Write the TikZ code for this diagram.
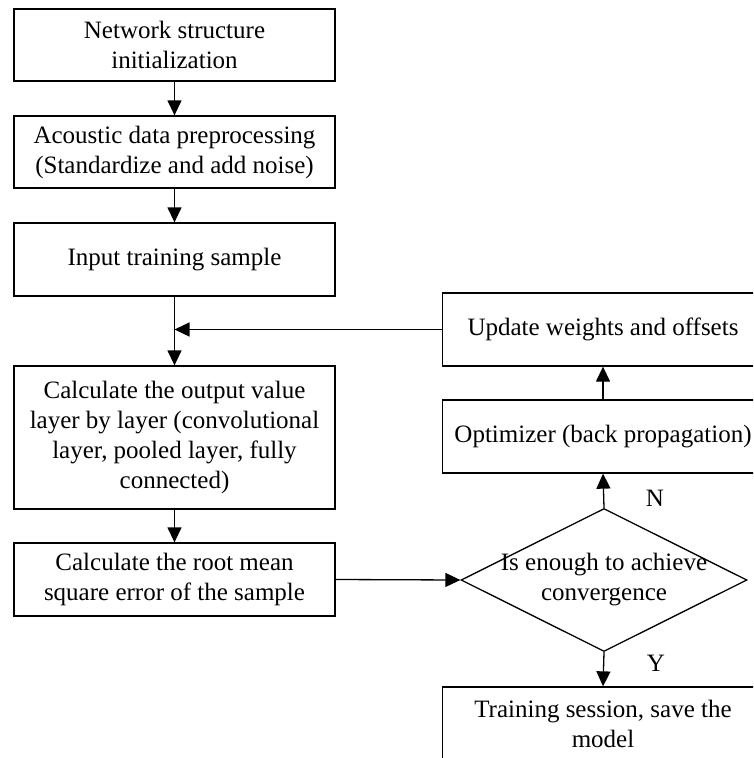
\documentclass[tikz,border=0pt]{standalone}
\usepackage{fontspec}
\setmainfont{Liberation Serif}
\usetikzlibrary{shapes.geometric,arrows.meta}
\tikzset{
  stepbox/.style={draw, line width=1.3pt, rectangle, minimum width=321pt, inner sep=0pt, align=center,
    font=\fontsize{25}{30}\selectfont},
  decision/.style={draw, line width=1.3pt, diamond, minimum width=286pt, minimum height=143pt, inner sep=0pt},
  flow/.style={line width=1.3pt, -{Triangle[length=15pt,width=14pt]}},
  tag/.style={font=\fontsize{25}{30}\selectfont, inner sep=0pt}
}
\begin{document}
\begin{tikzpicture}[x=1pt,y=1pt]
\useasboundingbox (0,0) rectangle (753,-758);
\clip (0,0) rectangle (753,-758);
% left column
\node[stepbox, minimum height=72pt] (init) at (174.5,-45) {Network structure\\initialization};
\node[stepbox, minimum height=72pt] (prep) at (174.5,-152) {Acoustic data preprocessing\\(Standardize and add noise)};
\node[stepbox, minimum height=73pt] (input) at (174.5,-259.5) {Input training sample};
\node[stepbox, minimum height=143pt] (calc) at (174.5,-437.5) {Calculate the output value\\layer by layer (convolutional\\layer, pooled layer, fully\\connected)};
\node[stepbox, minimum height=73pt] (rmse) at (174.5,-579.5) {Calculate the root mean\\square error of the sample};
% right column
\node[stepbox, minimum height=73pt] (upd) at (603,-329.5) {Update weights and offsets};
\node[stepbox, minimum height=73pt] (opt) at (603,-436.5) {Optimizer (back propagation)};
\node[decision] (dec) at (604,-580) {};
\node[tag, align=center] (dectext) at (dec.center) {Is enough to achieve\\convergence};
\node[stepbox, minimum height=73pt] (save) at (603,-723.5) {Training session, save the\\model};
% connectors
\coordinate (join) at (input.south |- upd.west);
\draw[flow] (init) -- (prep);
\draw[flow] (prep) -- (input);
\draw[flow] (input) -- (calc);
\draw[flow] (upd.west) -- (join);
\draw[flow] (calc) -- (rmse);
\draw[flow] (rmse.east) -- (dec.west);
\draw[flow] (dec.north) -- (opt.south);
\draw[flow] (opt) -- (upd);
\draw[flow] (dec.south) -- (save.north);
% branch labels
\node[tag] (nlab) at (655,-498) {N};
\node[tag] (ylab) at (656,-663) {Y};
\end{tikzpicture}
\end{document}
